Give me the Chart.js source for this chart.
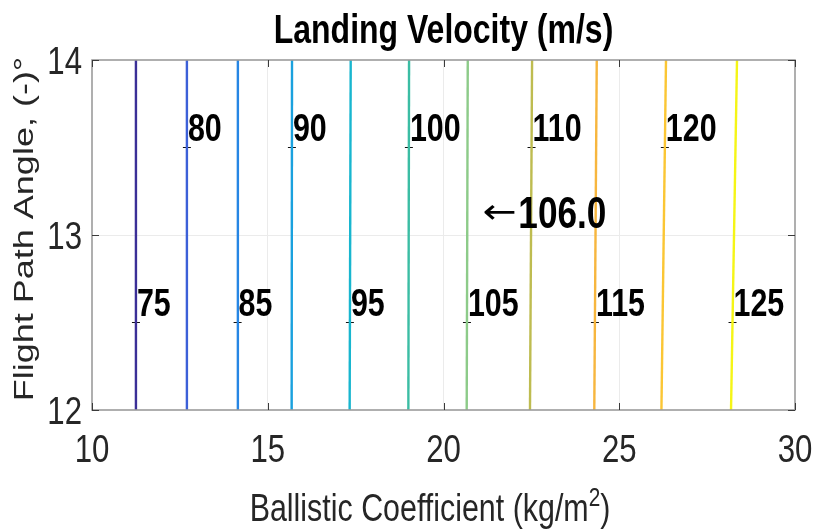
<!DOCTYPE html>
<html>
<head>
<meta charset="utf-8">
<script src="https://cdn.jsdelivr.net/npm/chart.js@4/dist/chart.umd.min.js"></script>
<style>
  html, body { margin: 0; padding: 0; background: #ffffff; }
  #wrap { width: 818px; height: 532px; position: relative; }
</style>
</head>
<body>
<div id="wrap"><canvas id="chart"></canvas></div>
<script>
// Contour levels of landing velocity (m/s)
const levels = [75, 80, 85, 90, 95, 100, 105, 110, 115, 120, 125];
// Ballistic coefficient where each contour meets the top (14 deg) and bottom (12 deg) edge
const xAtTop    = [11.25, 12.70, 14.15, 15.69, 17.36, 19.02, 20.69, 22.52, 24.36, 26.33, 28.35];
const xAtBottom = [11.25, 12.70, 14.14, 15.68, 17.33, 19.00, 20.66, 22.46, 24.29, 26.20, 28.18];
// Flight path angle at which each contour carries its inline label
const labelAngle = [12.5, 13.5, 12.5, 13.5, 12.5, 13.5, 12.5, 13.5, 12.5, 13.5, 12.5];
// Parula-style colours, low to high
const lineColors = ['#3b2f97', '#3c60d8', '#2686e4', '#1aa1de', '#18b6cf', '#3bbda4',
                    '#8dcb89', '#bebc50', '#f7b63e', '#fbc634', '#f5f516'];
const xTicks = [10, 15, 20, 25, 30];
const yTicks = [12, 13, 14];
const chartTitle = 'Landing Velocity (m/s)';
const xTitleMain = 'Ballistic Coefficient (kg/m';
const xTitleSup = '2';
const xTitleTail = ')';
const yTitle = 'Flight Path Angle, (-)\u00b0';
// Marked design point
const markedValue = 106.0;
const markedPoint = { x: 21.10, y: 13.13 };

const SQ = 0.8;                  // horizontal squeeze of all lettering
const SANS = "'Liberation Sans', Arial, sans-serif";

function angleToX(i, y) {
  return xAtBottom[i] + (xAtTop[i] - xAtBottom[i]) * (y - 12) / (14 - 12);
}

function squeezed(ctx, str, x, y, font, align, baseline) {
  ctx.save();
  ctx.font = font;
  ctx.textAlign = align;
  ctx.textBaseline = baseline;
  ctx.translate(x, y);
  ctx.scale(SQ, 1);
  ctx.fillText(str, 0, 0);
  ctx.restore();
}

const datasets = levels.map((lv, i) => ({
  label: String(lv),
  data: [{ x: xAtBottom[i], y: 12 }, { x: xAtTop[i], y: 14 }],
  showLine: true,
  borderColor: lineColors[i],
  borderWidth: 2.4,
  pointRadius: 0,
  fill: false
}));

datasets.push({
  label: 'label anchors',
  data: levels.map((lv, i) => ({ x: angleToX(i, labelAngle[i]), y: labelAngle[i] })),
  showLine: false,
  pointStyle: 'cross',
  pointRadius: 4,
  borderColor: '#111111',
  borderWidth: 1
});

const decor = {
  id: 'decor',
  beforeDraw(chart) {
    const ctx = chart.ctx;
    ctx.save();
    ctx.fillStyle = '#ffffff';
    ctx.fillRect(0, 0, chart.width, chart.height);
    ctx.restore();
  },
  afterDatasetsDraw(chart) {
    const ctx = chart.ctx;
    const a = chart.chartArea;
    const xs = chart.scales.x, ys = chart.scales.y;

    // axes box
    ctx.save();
    ctx.strokeStyle = '#9c9c9c';
    ctx.lineWidth = 1.6;
    ctx.strokeRect(a.left, a.top, a.right - a.left, a.bottom - a.top);

    // inward tick marks on all four sides
    ctx.strokeStyle = '#3a3a3a';
    ctx.lineWidth = 1;
    const tl = 7;
    xs.ticks.forEach(t => {
      const px = Math.round(xs.getPixelForValue(t.value)) + 0.5;
      ctx.beginPath();
      ctx.moveTo(px, a.bottom); ctx.lineTo(px, a.bottom - tl);
      ctx.moveTo(px, a.top); ctx.lineTo(px, a.top + tl);
      ctx.stroke();
    });
    ys.ticks.forEach(t => {
      const py = Math.round(ys.getPixelForValue(t.value)) + 0.5;
      ctx.beginPath();
      ctx.moveTo(a.left, py); ctx.lineTo(a.left + tl, py);
      ctx.moveTo(a.right, py); ctx.lineTo(a.right - tl, py);
      ctx.stroke();
    });
    ctx.restore();

    // tick labels
    ctx.save();
    ctx.fillStyle = '#262626';
    xs.ticks.forEach(t => {
      squeezed(ctx, String(t.value), xs.getPixelForValue(t.value), a.bottom + 52,
               '39px ' + SANS, 'center', 'alphabetic');
    });
    ys.ticks.forEach(t => {
      squeezed(ctx, String(t.value), a.left - 10, ys.getPixelForValue(t.value) + 14,
               '39px ' + SANS, 'right', 'alphabetic');
    });
    ctx.restore();

    // inline contour labels
    ctx.save();
    ctx.fillStyle = '#000000';
    levels.forEach((lv, i) => {
      const px = xs.getPixelForValue(angleToX(i, labelAngle[i]));
      const py = ys.getPixelForValue(labelAngle[i]);
      squeezed(ctx, String(lv), px + 1, py - 7, 'bold 38px ' + SANS, 'left', 'alphabetic');
    });

    // marked point annotation
    const mx = xs.getPixelForValue(markedPoint.x);
    const my = ys.getPixelForValue(markedPoint.y);
    ctx.save();
    ctx.font = "34px 'DejaVu Sans', sans-serif";
    ctx.textAlign = 'left';
    ctx.textBaseline = 'middle';
    ctx.translate(mx, my);
    ctx.scale(1.2, 1);
    const arrow = '\u2190';
    ctx.fillText(arrow, 0, 2);
    const aw = ctx.measureText(arrow).width * 1.2;
    ctx.restore();
    squeezed(ctx, markedValue.toFixed(1), mx + aw + 2, my + 16, 'bold 44px ' + SANS, 'left', 'alphabetic');
    ctx.restore();

    // chart title
    ctx.save();
    ctx.fillStyle = '#000000';
    squeezed(ctx, chartTitle, (a.left + a.right) / 2, 43, 'bold 40px ' + SANS, 'center', 'alphabetic');
    ctx.restore();

    // x axis title with superscript
    ctx.save();
    ctx.fillStyle = '#262626';
    const fMain = '38px ' + SANS, fSup = '26px ' + SANS;
    ctx.font = fMain;
    const w1 = ctx.measureText(xTitleMain).width * SQ;
    const w3 = ctx.measureText(xTitleTail).width * SQ;
    ctx.font = fSup;
    const w2 = ctx.measureText(xTitleSup).width * SQ;
    const total = w1 + w2 + w3;
    const x0 = 430 - total / 2;
    const base = 521;
    squeezed(ctx, xTitleMain, x0, base, fMain, 'left', 'alphabetic');
    squeezed(ctx, xTitleSup, x0 + w1, base - 15, fSup, 'left', 'alphabetic');
    squeezed(ctx, xTitleTail, x0 + w1 + w2, base, fMain, 'left', 'alphabetic');
    ctx.restore();

    // y axis title, rotated
    ctx.save();
    ctx.fillStyle = '#262626';
    ctx.font = '36px ' + SANS;
    ctx.textAlign = 'center';
    ctx.textBaseline = 'alphabetic';
    ctx.translate(33, 229);
    ctx.rotate(-Math.PI / 2);
    ctx.scale(1, 0.77);
    ctx.fillText(yTitle, 0, 0);
    ctx.restore();
  }
};

new Chart(document.getElementById('chart'), {
  type: 'scatter',
  data: { datasets },
  plugins: [decor],
  options: {
    responsive: true,
    maintainAspectRatio: false,
    animation: false,
    events: [],
    layout: { padding: { left: 0, right: 23, top: 60, bottom: 0 } },
    plugins: { legend: { display: false }, tooltip: { enabled: false }, title: { display: false } },
    scales: {
      x: {
        type: 'linear', min: 10, max: 30,
        afterBuildTicks: s => { s.ticks = xTicks.map(v => ({ value: v })); },
        afterFit: s => { s.height = 532 - 410; },
        border: { display: false },
        grid: {
          drawTicks: false,
          color: ctx => (ctx.tick && (ctx.tick.value === 10 || ctx.tick.value === 30)) ? 'rgba(0,0,0,0)' : '#ebebeb',
          lineWidth: 1
        },
        ticks: { display: false }
      },
      y: {
        type: 'linear', min: 12, max: 14,
        afterBuildTicks: s => { s.ticks = yTicks.map(v => ({ value: v })); },
        afterFit: s => { s.width = 92; },
        border: { display: false },
        grid: {
          drawTicks: false,
          color: ctx => (ctx.tick && (ctx.tick.value === 12 || ctx.tick.value === 14)) ? 'rgba(0,0,0,0)' : '#ebebeb',
          lineWidth: 1
        },
        ticks: { display: false }
      }
    }
  }
});
</script>
</body>
</html>
